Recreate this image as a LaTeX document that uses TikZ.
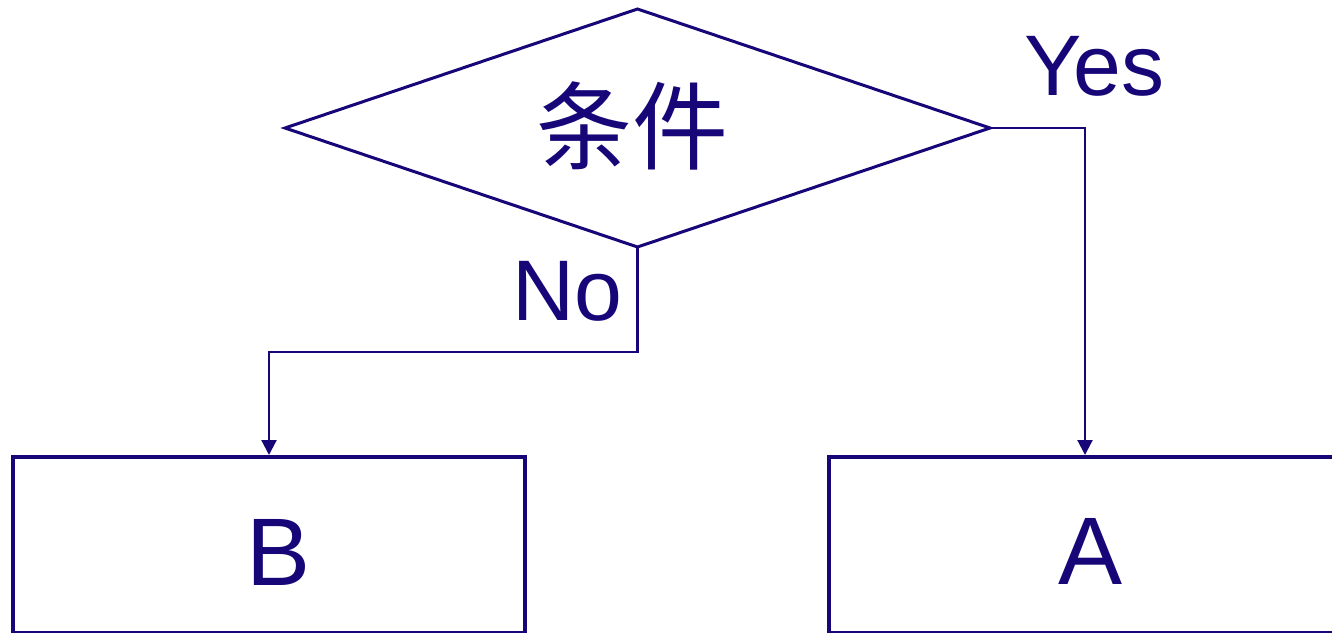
\documentclass[tikz,border=0pt]{standalone}
\usepackage{fontspec}
\setmainfont{Liberation Sans}
\newfontfamily\cjk{Noto Sans CJK SC}
\usetikzlibrary{shapes.geometric,arrows.meta}
\definecolor{navy}{RGB}{22,6,120}
\tikzset{
  decision/.style={diamond, draw=navy, line width=3pt, inner sep=0pt, outer sep=0pt,
    minimum width=705pt, minimum height=238pt, aspect=2.96},
  procbox/.style={rectangle, draw=navy, line width=4pt, inner sep=0pt,
    minimum width=512pt, minimum height=176pt},
  conn/.style={draw=navy, line width=2.2pt, -{Triangle[length=15pt,width=15pt]}},
  lbl/.style={text=navy, inner sep=0pt, font=\fontsize{86}{90}\selectfont},
  boxlbl/.style={text=navy, inner sep=0pt, font=\fontsize{96}{100}\selectfont},
}
\begin{document}
\begin{tikzpicture}[x=1pt,y=-1pt]
\useasboundingbox[fill=white] (0,0) rectangle (1332,632);
\node[decision] (cond) at (637.5,128) {};
\node[text=navy, inner sep=0pt, font=\cjk\fontsize{96}{100}\selectfont] (condtext) at (632,126) {条件};
\node[procbox] (B) at (269,545) {};
\node[procbox] (A) at (1085,545) {};
\node[boxlbl, anchor=base] (Btext) at (279,585) {B};
\node[boxlbl, anchor=base] (Atext) at (1090,584) {A};
\node[lbl, anchor=base west] (yes) at (1024,95) {Yes};
\node[lbl, anchor=base west] (no) at (512,320) {No};
\coordinate (nobend) at (637.5,352);
\draw[conn] (cond.east) -| (A.north);
\draw[conn] (cond.south) -- (nobend) -| (B.north);
\end{tikzpicture}
\end{document}
